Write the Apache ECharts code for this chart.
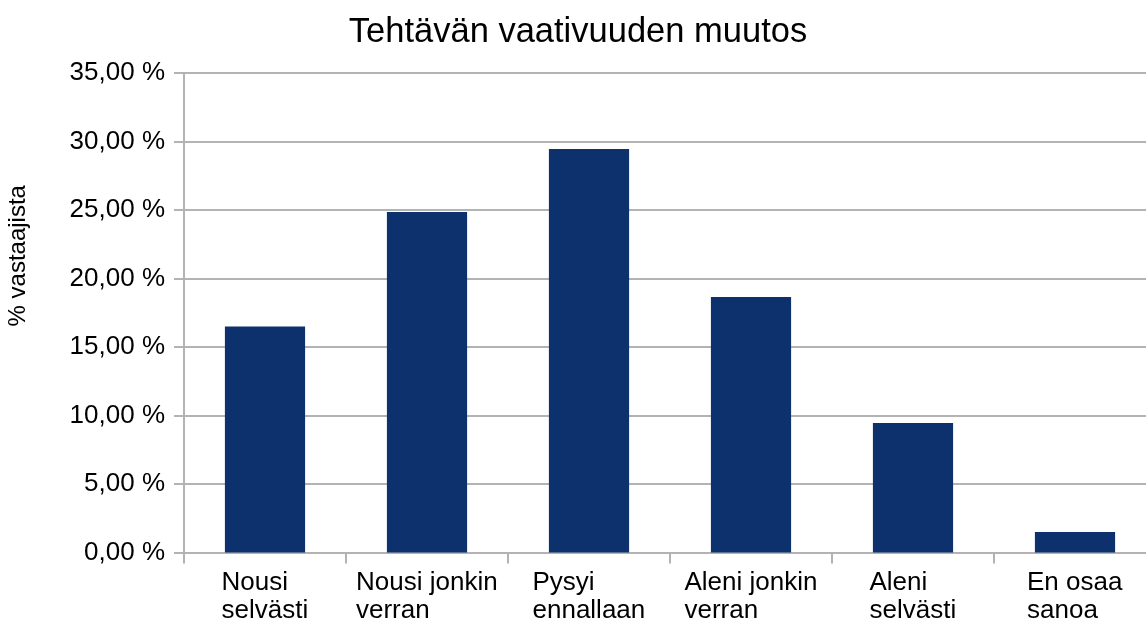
<!DOCTYPE html>
<html>
<head>
<meta charset="utf-8">
<script src="https://cdn.jsdelivr.net/npm/echarts@6/dist/echarts.min.js"></script>
<style>
  html, body { margin: 0; padding: 0; background: #fff; overflow: hidden; }
  #chart { width: 1156px; height: 625px; }
</style>
</head>
<body>
<div id="chart"></div>
<script>
// data
const categories = ['Nousi\nselvästi', 'Nousi jonkin\nverran', 'Pysyi\nennallaan', 'Aleni jonkin\nverran', 'Aleni\nselvästi', 'En osaa\nsanoa']
const values = [16.5, 24.85, 29.45, 18.65, 9.45, 1.5]
const yTicks = { min: 0, max: 35, interval: 5 }

const FONT = '"Liberation Sans", Arial, sans-serif'
const LABEL_SIZE = 26

// lines of a category label are left aligned inside a centered block
const ctx = document.createElement('canvas').getContext('2d')
ctx.font = LABEL_SIZE + 'px ' + FONT
const rich = {}
categories.forEach((c, i) => {
  const w = Math.max(...c.split('\n').map((l) => ctx.measureText(l).width))
  rich['c' + i] = { width: Math.ceil(w), align: 'left', fontSize: LABEL_SIZE, lineHeight: 28, color: '#000', fontFamily: FONT }
})

const chart = echarts.init(document.getElementById('chart'))

const options = {
  animation: false,
  title: {
    text: 'Tehtävän vaativuuden muutos',
    left: 'center',
    top: 10,
    textStyle: { fontSize: 34.5, fontWeight: 'normal', color: '#000', fontFamily: FONT }
  },
  grid: { left: 184, right: 0, top: 73, bottom: 72.5, outerBoundsMode: 'none' },
  xAxis: {
    type: 'category',
    data: categories,
    axisLine: { show: true, lineStyle: { color: '#b3b3b3', width: 2 } },
    axisTick: { show: true, length: 11, lineStyle: { color: '#b3b3b3', width: 2 } },
    axisLabel: {
      margin: 16,
      interval: 0,
      formatter: (v, i) => v.split('\n').map((l) => '{c' + i + '|' + l + '}').join('\n'),
      rich: rich
    }
  },
  yAxis: {
    type: 'value',
    min: yTicks.min,
    max: yTicks.max,
    interval: yTicks.interval,
    name: '% vastaajista',
    nameLocation: 'middle',
    nameRotate: 90,
    nameGap: 154,
    nameTextStyle: { fontSize: 24, color: '#000', fontFamily: FONT, padding: [0, 0, 0, 114] },
    axisLine: { show: true, lineStyle: { color: '#b3b3b3', width: 2 } },
    axisTick: { show: true, inside: false, length: 10, lineStyle: { color: '#b3b3b3', width: 2 } },
    axisLabel: {
      margin: 19,
      fontSize: LABEL_SIZE,
      color: '#000',
      fontFamily: FONT,
      formatter: (v) => v.toFixed(2).replace('.', ',') + ' %'
    },
    splitLine: { show: true, lineStyle: { color: '#b3b3b3', width: 2 } }
  },
  series: [
    {
      type: 'bar',
      data: values,
      barWidth: '49.5%',
      itemStyle: { color: '#0d316c' }
    }
  ]
}

chart.setOption(options)
</script>
</body>
</html>
